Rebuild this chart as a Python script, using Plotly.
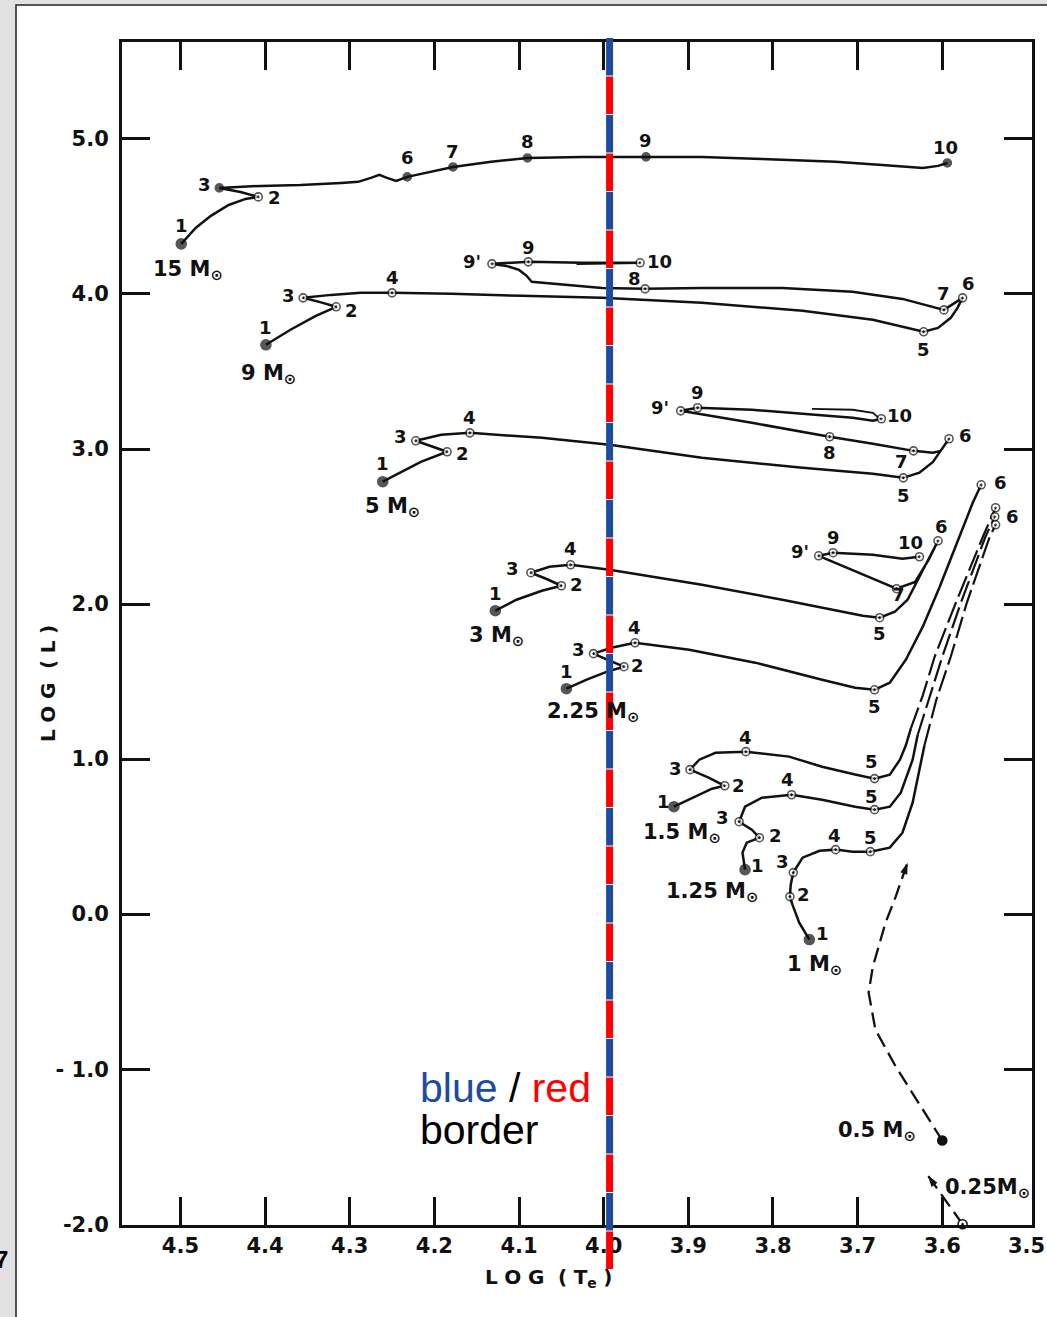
import plotly.graph_objects as go

# ------------------------------------------------------------------
# DATA  (log Te , log L) (Iben tracks)
# ------------------------------------------------------------------
x_tick_vals = [4.5, 4.4, 4.3, 4.2, 4.1, 4.0, 3.9, 3.8, 3.7, 3.6]
x_tick_text = ["4.5", "4.4", "4.3", "4.2", "4.1", "4.0", "3.9", "3.8", "3.7", "3.6"]
x_edge_val, x_edge_text = 3.5, "3.5"
y_tick_vals = [-2.0, -1.0, 0.0, 1.0, 2.0, 3.0, 4.0, 5.0]
y_tick_text = ["-2.0", "- 1.0", "0.0", "1.0", "2.0", "3.0", "4.0", "5.0"]

# 15 Msun
m15_logT = [4.499, 4.482, 4.464, 4.443, 4.423, 4.408, 4.429, 4.454, 4.405, 4.358, 4.310, 4.290, 4.275,
            4.265, 4.256, 4.245, 4.232, 4.204, 4.178, 4.133, 4.090, 4.026, 3.950, 3.884, 3.813, 3.726,
            3.671, 3.641, 3.623, 3.605, 3.594]
m15_logL = [4.323, 4.426, 4.504, 4.574, 4.613, 4.626, 4.658, 4.684, 4.697, 4.703, 4.716, 4.723, 4.749,
            4.768, 4.749, 4.729, 4.755, 4.787, 4.819, 4.852, 4.877, 4.884, 4.884, 4.884, 4.871, 4.852,
            4.832, 4.819, 4.813, 4.826, 4.845]
m15_pt_lab = ["1", "2", "3", "6", "7", "8", "9", "10"]
m15_pt_logT = [4.499, 4.408, 4.454, 4.232, 4.178, 4.090, 3.950, 3.594]
m15_pt_logL = [4.323, 4.626, 4.684, 4.755, 4.819, 4.877, 4.884, 4.845]

# 9 Msun
m9_logT = [4.399, 4.370, 4.340, 4.316, 4.336, 4.355, 4.322, 4.287, 4.250, 4.180, 4.097, 4.002, 3.884,
           3.765, 3.682, 3.647, 3.622, 3.605, 3.590, 3.582, 3.576, 3.598, 3.647, 3.706, 3.789, 3.884,
           3.951, 4.002, 4.050, 4.085, 4.091, 4.100, 4.115, 4.132, 4.089, 4.026, 3.957, 4.032]
m9_logL = [3.672, 3.769, 3.859, 3.917, 3.949, 3.975, 3.994, 4.007, 4.007, 4.001, 3.988, 3.975, 3.943,
           3.891, 3.833, 3.788, 3.756, 3.781, 3.846, 3.910, 3.975, 3.897, 3.968, 4.014, 4.039, 4.039,
           4.033, 4.039, 4.059, 4.078, 4.117, 4.155, 4.181, 4.194, 4.207, 4.201, 4.201, 4.194]
m9_pt_lab = ["1", "2", "3", "4", "5", "6", "7", "8", "9'", "9", "10"]
m9_pt_logT = [4.399, 4.316, 4.355, 4.250, 3.622, 3.576, 3.598, 3.951, 4.132, 4.089, 3.957]
m9_pt_logL = [3.672, 3.917, 3.975, 4.007, 3.756, 3.975, 3.897, 4.033, 4.194, 4.207, 4.201]

# 5 Msun
m5_logT = [4.261, 4.239, 4.216, 4.185, 4.204, 4.222, 4.192, 4.158, 4.073, 3.993, 3.884, 3.765, 3.682,
           3.646, 3.627, 3.611, 3.602, 3.592, 3.602, 3.611, 3.634, 3.682, 3.733, 3.825, 3.884, 3.909,
           3.889, 3.825, 3.765, 3.706, 3.682, 3.672]
m5_logL = [2.789, 2.853, 2.917, 2.982, 3.021, 3.053, 3.092, 3.104, 3.072, 3.027, 2.943, 2.879, 2.840,
           2.814, 2.847, 2.917, 2.988, 3.066, 2.988, 2.976, 2.988, 3.034, 3.079, 3.169, 3.220, 3.246,
           3.266, 3.253, 3.227, 3.201, 3.182, 3.195]
m5_loop_logT = [3.754, 3.706, 3.682, 3.675]
m5_loop_logL = [3.259, 3.253, 3.233, 3.201]
m5_pt_lab = ["1", "2", "3", "4", "5", "6", "7", "8", "9'", "9", "10"]
m5_pt_logT = [4.261, 4.185, 4.222, 4.158, 3.646, 3.592, 3.634, 3.733, 3.909, 3.889, 3.672]
m5_pt_logL = [2.789, 2.982, 3.053, 3.104, 2.814, 3.066, 2.988, 3.079, 3.246, 3.266, 3.195]

# 3 Msun
m3_logT = [4.128, 4.103, 4.073, 4.050, 4.068, 4.086, 4.064, 4.039, 3.993, 3.884, 3.789, 3.718, 3.694,
           3.674, 3.656, 3.641, 3.632, 3.621, 3.613, 3.605, 3.616, 3.632, 3.654, 3.746, 3.729, 3.682,
           3.647, 3.627]
m3_logL = [1.957, 2.028, 2.086, 2.118, 2.163, 2.202, 2.240, 2.253, 2.221, 2.124, 2.028, 1.950, 1.925,
           1.912, 1.950, 2.028, 2.124, 2.234, 2.318, 2.408, 2.286, 2.143, 2.099, 2.311, 2.331, 2.318,
           2.292, 2.305]
m3_pt_lab = ["1", "2", "3", "4", "5", "6", "7", "9'", "9", "10"]
m3_pt_logT = [4.128, 4.050, 4.086, 4.039, 3.674, 3.605, 3.654, 3.746, 3.729, 3.627]
m3_pt_logL = [1.957, 2.118, 2.202, 2.253, 1.912, 2.408, 2.099, 2.311, 2.331, 2.305]

# 2.25 Msun
m225_logT = [4.044, 4.020, 3.996, 3.976, 3.996, 4.012, 3.991, 3.963, 3.899, 3.821, 3.742, 3.703, 3.680,
             3.662, 3.643, 3.623, 3.603, 3.584, 3.564, 3.554]
m225_logL = [1.454, 1.512, 1.564, 1.596, 1.641, 1.680, 1.718, 1.750, 1.705, 1.622, 1.512, 1.460, 1.447,
             1.493, 1.641, 1.854, 2.111, 2.369, 2.653, 2.769]
m225_pt_lab = ["1", "2", "3", "4", "5", "6"]
m225_pt_logT = [4.044, 3.976, 4.012, 3.963, 3.680, 3.554]
m225_pt_logL = [1.454, 1.596, 1.680, 1.750, 1.447, 2.769]

# 1.5 Msun
m15s_logT = [3.917, 3.892, 3.872, 3.857, 3.876, 3.898, 3.887, 3.868, 3.832, 3.781, 3.742, 3.703, 3.680,
             3.662, 3.650, 3.643, 3.637]
m15s_logL = [0.693, 0.758, 0.809, 0.828, 0.880, 0.932, 0.996, 1.041, 1.048, 1.016, 0.951, 0.900, 0.874,
             0.900, 0.996, 1.089, 1.199]
m15s_rgb_logT = [3.637, 3.623, 3.609, 3.584, 3.552, 3.537]
m15s_rgb_logL = [1.199, 1.411, 1.660, 2.008, 2.434, 2.621]
m15s_pt_lab = ["1", "2", "3", "4", "5", "6"]
m15s_pt_logT = [3.917, 3.857, 3.898, 3.832, 3.680, 3.537]
m15s_pt_logL = [0.693, 0.828, 0.932, 1.048, 0.874, 2.621]

# 1.25 Msun
m125_logT = [3.833, 3.836, 3.831, 3.816, 3.825, 3.840, 3.833, 3.813, 3.778, 3.742, 3.703, 3.680, 3.662,
             3.649, 3.635, 3.629]
m125_logL = [0.287, 0.397, 0.461, 0.493, 0.545, 0.596, 0.693, 0.751, 0.770, 0.738, 0.693, 0.674, 0.693,
             0.783, 0.996, 1.157]
m125_rgb_logT = [3.629, 3.616, 3.600, 3.578, 3.549, 3.538]
m125_rgb_logL = [1.157, 1.383, 1.660, 2.008, 2.434, 2.563]
m125_pt_lab = ["1", "2", "3", "4", "5", "6"]
m125_pt_logT = [3.833, 3.816, 3.840, 3.778, 3.680, 3.538]
m125_pt_logL = [0.287, 0.493, 0.596, 0.770, 0.674, 2.563]

# 1 Msun
m1_logT = [3.757, 3.769, 3.777, 3.780, 3.779, 3.776, 3.765, 3.745, 3.726, 3.706, 3.685, 3.662, 3.647,
           3.635, 3.627, 3.621]
m1_logL = [-0.164, -0.055, 0.061, 0.113, 0.190, 0.268, 0.364, 0.409, 0.416, 0.403, 0.403, 0.429, 0.525,
           0.719, 0.932, 1.089]
m1_rgb_logT = [3.621, 3.607, 3.590, 3.571, 3.544, 3.537]
m1_rgb_logL = [1.089, 1.383, 1.660, 2.008, 2.434, 2.511]
m1_pt_lab = ["1", "2", "3", "4", "5", "6"]
m1_pt_logT = [3.757, 3.780, 3.776, 3.726, 3.685, 3.537]
m1_pt_logL = [-0.164, 0.113, 0.268, 0.416, 0.403, 2.511]

# 0.5 and 0.25 Msun (dashed, with arrow)
m05_logT = [3.600, 3.623, 3.655, 3.679, 3.687, 3.682, 3.667, 3.655, 3.641]
m05_logL = [-1.460, -1.260, -0.983, -0.745, -0.506, -0.338, -0.055, 0.113, 0.332]
m025_logT = [3.576, 3.617]
m025_logL = [-2.0, -1.686]

border_logT = 3.993   # blue / red border

# ------------------------------------------------------------------
# STYLE
# ------------------------------------------------------------------
INK = "#111111"
SCAN = "DejaVu Sans"
BLUE = "#1d4c9f"
RED = "#ff0000"
W, H = 1047, 1317
ML, MR, MT, MB = 122, 15, 42, 92
PW = W - ML - MR
PH = H - MT - MB
LW = 2.5


def px_x(p):
    return (p - ML) / PW


def px_y(p):
    return (H - MB - p) / PH


fig = go.Figure()
annotations = []


def line(T, L, dash=None, width=LW):
    fig.add_trace(go.Scatter(x=T, y=L, mode="lines", hoverinfo="skip", showlegend=False,
                             line=dict(color=INK, width=width, dash=dash)))


def points(T, L, labels, filled_all=False, offsets=None, mass=None, mass_off=(0, 0)):
    sym, size, col = [], [], []
    for lab in labels:
        if lab == "1" or (filled_all and lab not in ("2",)):
            sym.append("circle")
            size.append(10 if lab == "1" else 8)
            col.append(INK)
        else:
            sym.append("circle-dot")
            size.append(8)
            col.append("white")
    fig.add_trace(go.Scatter(x=T, y=L, mode="markers", hoverinfo="skip", showlegend=False, cliponaxis=False,
                             marker=dict(symbol=sym, size=size, color=col, line=dict(color=INK, width=1.6))))
    for t, l, lab, off in zip(T, L, labels, offsets):
        if off is None:
            continue
        annotations.append(dict(x=t, y=l, xref="x", yref="y", text=lab, showarrow=False,
                                xshift=off[0], yshift=off[1],
                                font=dict(family=SCAN, size=18, color=INK, weight="bold")))
    if mass:
        annotations.append(dict(x=T[0], y=L[0], xref="x", yref="y", text=mass, showarrow=False,
                                xshift=mass_off[0], yshift=mass_off[1],
                                font=dict(family=SCAN, size=21, color=INK, weight="bold")))


MSUN = "M<sub>⊙</sub>"

line(m15_logT, m15_logL)
points(m15_pt_logT, m15_pt_logL, m15_pt_lab, filled_all=True,
       offsets=[(0, 18), (16, -1), (-15, 3), (0, 19), (0, 15), (0, 16), (0, 16), (-2, 15)],
       mass="15 " + MSUN, mass_off=(7, -26))

line(m9_logT, m9_logL)
points(m9_pt_logT, m9_pt_logL, m9_pt_lab,
       offsets=[(0, 17), (15, -4), (-15, 2), (0, 15), (0, -18), (6, 14), (0, 16), (-11, 10), (-20, 2), (0, 14), (19, 1)],
       mass="9 " + MSUN, mass_off=(3, -29))

line(m5_logT, m5_logL)
line(m5_loop_logT, m5_loop_logL, width=1.8)
points(m5_pt_logT, m5_pt_logL, m5_pt_lab,
       offsets=[(0, 18), (15, -2), (-15, 4), (0, 15), (0, -18), (16, 3), (-12, -11), (0, -16), (-21, 3), (0, 15), (18, 3)],
       mass="5 " + MSUN, mass_off=(10, -25))

line(m3_logT, m3_logL)
points(m3_pt_logT, m3_pt_logL, m3_pt_lab,
       offsets=[(0, 17), (15, 1), (-18, 4), (0, 16), (0, -16), (3, 14), (2, -6), (-19, 4), (0, 15), (-9, 14)],
       mass="3 " + MSUN, mass_off=(1, -25))

line(m225_logT, m225_logL)
points(m225_pt_logT, m225_pt_logL, m225_pt_lab,
       offsets=[(0, 17), (14, 1), (-15, 4), (0, 15), (0, -17), (19, 2)],
       mass="2.25 " + MSUN, mass_off=(27, -23))

DASH_RGB = "22px,6px"
line(m15s_logT, m15s_logL)
line(m15s_rgb_logT, m15s_rgb_logL, dash=DASH_RGB, width=2.2)
points(m15s_pt_logT, m15s_pt_logL, m15s_pt_lab,
       offsets=[(-10, 5), (14, 0), (-15, 1), (0, 14), (-3, 17), None],
       mass="1.5 " + MSUN, mass_off=(8, -26))

line(m125_logT, m125_logL)
line(m125_rgb_logT, m125_rgb_logL, dash=DASH_RGB, width=2.2)
points(m125_pt_logT, m125_pt_logL, m125_pt_lab,
       offsets=[(12, 4), (16, 2), (-17, 4), (-4, 15), (-3, 13), (18, 0)],
       mass="1.25 " + MSUN, mass_off=(-33, -22))

line(m1_logT, m1_logL)
line(m1_rgb_logT, m1_rgb_logL, dash=DASH_RGB, width=2.2)
points(m1_pt_logT, m1_pt_logL, m1_pt_lab,
       offsets=[(13, 6), (14, 2), (-11, 11), (-1, 14), (0, 14), None],
       mass="1 " + MSUN, mass_off=(5, -25))

# low-mass dashed tracks with arrows
for T, L, first_filled, mass, moff in [(m05_logT, m05_logL, True, "0.5 " + MSUN, (-65, 10)),
                                        (m025_logT, m025_logL, False, "0.25M<sub>⊙</sub>", (25, 36))]:
    line(T, L, dash="15px,7px", width=2.3)
    fig.add_trace(go.Scatter(x=T[-2:], y=L[-2:], mode="markers", hoverinfo="skip", showlegend=False,
                             cliponaxis=False,
                             marker=dict(symbol="arrow", size=[1, 12], color=INK, angleref="previous",
                                         opacity=[0, 1], line=dict(width=0))))
    fig.add_trace(go.Scatter(x=[T[0]], y=[L[0]], mode="markers", hoverinfo="skip", showlegend=False,
                             cliponaxis=False,
                             marker=dict(symbol="circle" if first_filled else "circle-dot", size=9,
                                         color=INK if first_filled else "white",
                                         line=dict(color=INK, width=1.6))))
    annotations.append(dict(x=T[0], y=L[0], xref="x", yref="y", text=mass, showarrow=False,
                            xshift=moff[0], yshift=moff[1],
                            font=dict(family=SCAN, size=21, color=INK, weight="bold")))

# ------------------------------------------------------------------
# slide background and blue/red border line
# ------------------------------------------------------------------
shapes = [dict(type="rect", xref="paper", yref="paper", x0=px_x(16), x1=px_x(1070), y0=px_y(1340), y1=px_y(5),
               fillcolor="white", line=dict(color="#222222", width=1.5), layer="below")]
seg = 38.5
for i in range(32):
    top = 38 + i * seg
    shapes.append(dict(type="line", xref="x", yref="paper", x0=border_logT, x1=border_logT,
                       y0=px_y(top + seg - 1), y1=px_y(top),
                       line=dict(color=BLUE if i % 2 == 0 else RED, width=7), layer="above"))

TICKFONT = dict(family=SCAN, size=21, color=INK, weight="bold")
SP = "\u2004"
annotations += [
    dict(x=x_edge_val, xref="x", y=px_y(1246), yref="paper", text=x_edge_text, showarrow=False,
         yanchor="middle", font=TICKFONT),
    dict(xref="paper", yref="paper", x=px_x(418), y=px_y(1088), xanchor="left", yanchor="middle",
         showarrow=False,
         text=f'<span style="color:{BLUE}">blue</span> / <span style="color:{RED}">red</span>',
         font=dict(family="Liberation Sans", size=41, color="black")),
    dict(xref="paper", yref="paper", x=px_x(418), y=px_y(1130), xanchor="left", yanchor="middle",
         showarrow=False, text="border", font=dict(family="Liberation Sans", size=41, color="black")),
    dict(xref="paper", yref="paper", x=px_x(34), y=px_y(684), showarrow=False, textangle=-90,
         text=f"L{SP}O{SP}G{SP} ({SP}L{SP})", font=dict(family=SCAN, size=20, color=INK, weight="bold")),
    dict(xref="paper", yref="paper", x=px_x(549), y=px_y(1263), yanchor="top", showarrow=False,
         text=f"L{SP}O{SP}G{SP} ({SP}T<sub>e</sub>{SP})",
         font=dict(family=SCAN, size=20, color=INK, weight="bold")),
    dict(xref="paper", yref="paper", x=px_x(10), y=px_y(1275), xanchor="right", showarrow=False,
         text="7", font=dict(family="Liberation Sans", size=24, color="black", weight="bold")),
]

axis_common = dict(showgrid=False, zeroline=False, showline=True, linewidth=3, linecolor=INK,
                   ticks="inside", ticklen=28, tickwidth=2.5, tickcolor=INK, mirror="ticks",
                   automargin=False, tickfont=TICKFONT)

fig.update_layout(
    width=W, height=H, autosize=False,
    margin=dict(l=ML, r=MR, t=MT, b=MB),
    paper_bgcolor="#e2e2e2", plot_bgcolor="white",
    showlegend=False,
    xaxis=dict(range=[4.569, 3.494], tickvals=x_tick_vals, ticktext=x_tick_text, ticklabelstandoff=0,
               **axis_common),
    yaxis=dict(range=[-2.005, 5.625], tickvals=y_tick_vals, ticktext=y_tick_text, ticklabelstandoff=6,
               **axis_common),
    shapes=shapes,
    annotations=annotations,
)

fig.write_html("out.html")
